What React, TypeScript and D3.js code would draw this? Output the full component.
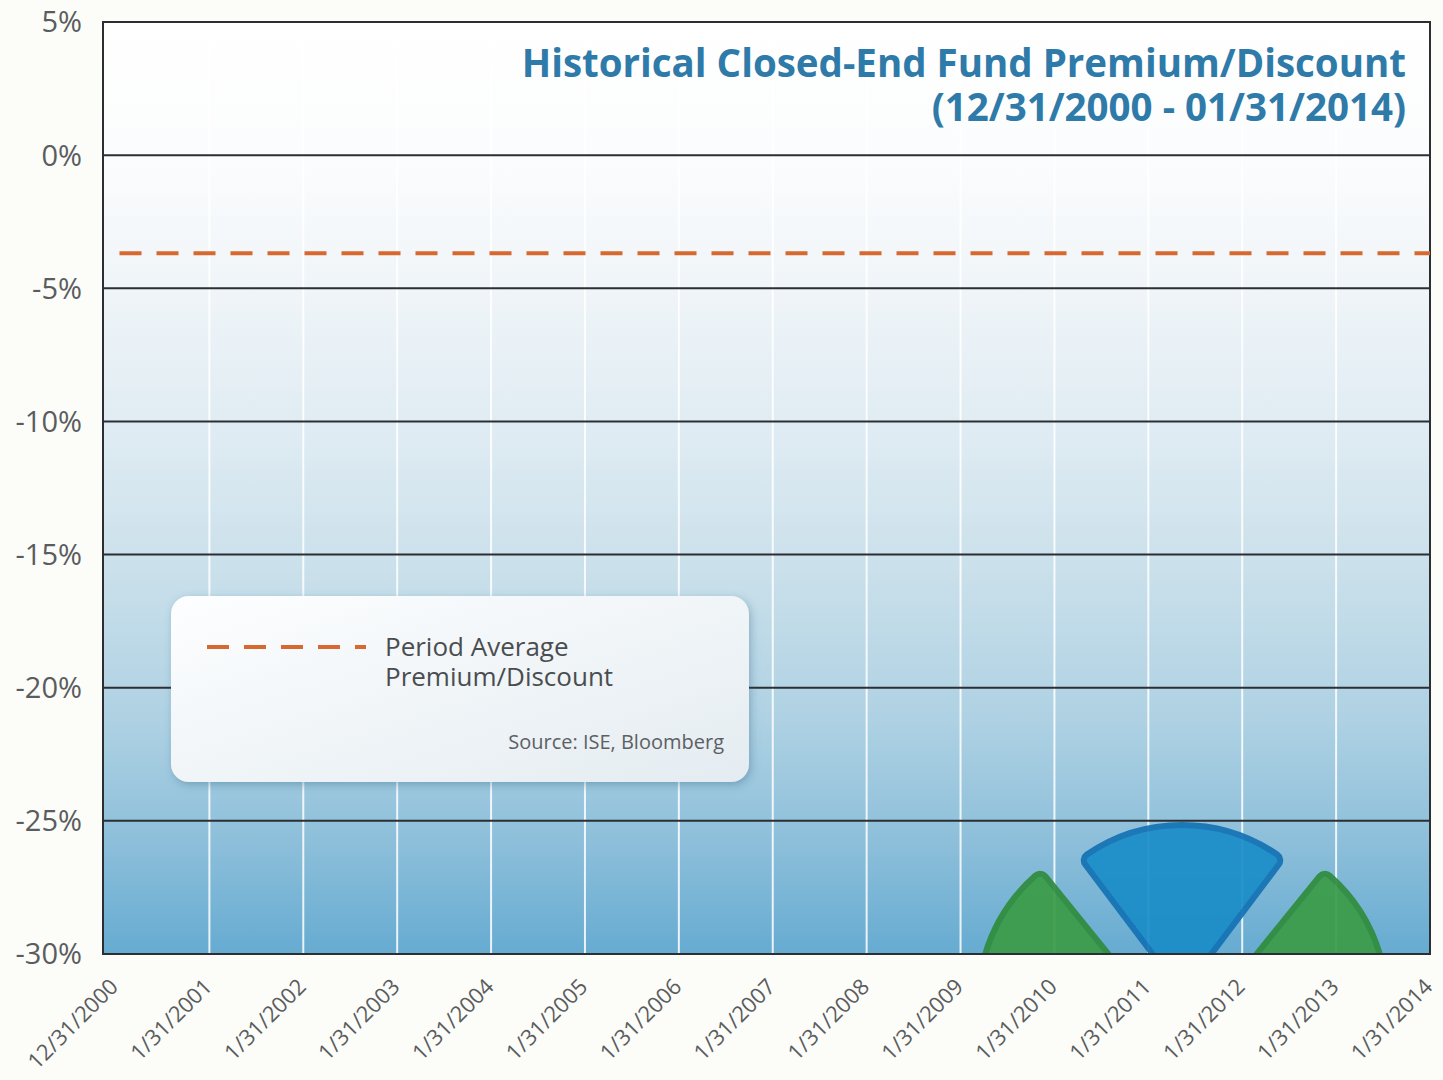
import React, { useEffect, useRef } from "react";
import * as d3 from "d3";

// y axis
const yTicks = [5, 0, -5, -10, -15, -20, -25, -30];
// x axis categories (evenly spaced labels)
const xTickLabels = [
  "12/31/2000", "1/31/2001", "1/31/2002", "1/31/2003", "1/31/2004",
  "1/31/2005", "1/31/2006", "1/31/2007", "1/31/2008", "1/31/2009",
  "1/31/2010", "1/31/2011", "1/31/2012", "1/31/2013", "1/31/2014",
];
const periodAverage = -3.68;

const titleLines = [
  "Historical Closed-End Fund Premium/Discount",
  "(12/31/2000 - 01/31/2014)",
];
const legendLines = ["Period Average", "Premium/Discount"];
const sourceText = "Source: ISE, Bloomberg";

const W = 1443;
const H = 1080;
const margin = { top: 22, right: 13, bottom: 126, left: 103 };
const FONT = "'Open Sans', sans-serif";

const App = () => {
  const svgRef = useRef(null);

  useEffect(() => {
    const svg = d3.select(svgRef.current);
    svg.selectAll("*").remove();

    // first label sits a little inside the left frame
    const x = d3
      .scalePoint()
      .domain(xTickLabels)
      .range([margin.left + 12.5, W - margin.right]);
    const y = d3
      .scaleLinear()
      .domain([-30, 5])
      .range([H - margin.bottom, margin.top]);

    const defs = svg.append("defs");
    const bg = defs
      .append("linearGradient")
      .attr("id", "plotBg")
      .attr("x1", 0).attr("y1", 0).attr("x2", 0).attr("y2", 1);
    [
      [0, "#ffffff"],
      [0.15, "#fbfcfd"],
      [0.3, "#eef4f8"],
      [0.45, "#deebf2"],
      [0.6, "#c8dfea"],
      [0.75, "#aed1e3"],
      [0.88, "#8dbfda"],
      [1, "#66abd1"],
    ].forEach(([o, c]) => bg.append("stop").attr("offset", o).attr("stop-color", c));

    const lg = defs
      .append("linearGradient")
      .attr("id", "legendBg")
      .attr("x1", 0).attr("y1", 0).attr("x2", 1).attr("y2", 1);
    lg.append("stop").attr("offset", 0).attr("stop-color", "#fdfeff");
    lg.append("stop").attr("offset", 1).attr("stop-color", "#e4ecf1");

    const shadow = defs.append("filter").attr("id", "shadow")
      .attr("x", "-10%").attr("y", "-10%").attr("width", "120%").attr("height", "130%");
    shadow.append("feDropShadow")
      .attr("dx", 2).attr("dy", 3).attr("stdDeviation", 4)
      .attr("flood-color", "#2a5a78").attr("flood-opacity", 0.35);

    defs.append("clipPath").attr("id", "plotClip")
      .append("rect")
      .attr("x", margin.left).attr("y", margin.top)
      .attr("width", W - margin.left - margin.right)
      .attr("height", H - margin.top - margin.bottom);

    // page background
    svg.append("rect").attr("width", W).attr("height", H).attr("fill", "#fcfcf9");

    // plot background
    svg.append("rect")
      .attr("x", margin.left).attr("y", margin.top)
      .attr("width", W - margin.left - margin.right)
      .attr("height", H - margin.top - margin.bottom)
      .attr("fill", "url(#plotBg)");

    // vertical white grid
    svg.append("g")
      .selectAll("line")
      .data(xTickLabels.slice(1, -1))
      .join("line")
      .attr("x1", (d) => x(d)).attr("x2", (d) => x(d))
      .attr("y1", margin.top).attr("y2", H - margin.bottom)
      .attr("stroke", "#ffffff")
      .attr("stroke-opacity", 0.85)
      .attr("stroke-width", 2);

    // logo in the corner
    const logo = svg.append("g").attr("clip-path", "url(#plotClip)").attr("opacity", 0.92);
    const deg = Math.PI / 180;
    const sectors = [
      { cx: 1148, cy: 1003, r: 170, a0: -76, a1: -39, fill: "#3b9c47", stroke: "#2f8c3c" },
      { cx: 1217, cy: 1003, r: 170, a0: 39, a1: 76, fill: "#3b9c47", stroke: "#2f8c3c" },
      { cx: 1182, cy: 993, r: 168, a0: -37, a1: 37, fill: "#1a8dc8", stroke: "#1372b4" },
    ];
    const arc = d3.arc().innerRadius(0).cornerRadius(7);
    logo.selectAll("path")
      .data(sectors)
      .join("path")
      .attr("transform", (d) => `translate(${d.cx},${d.cy})`)
      .attr("d", (d) =>
        arc({ outerRadius: d.r, startAngle: d.a0 * deg, endAngle: d.a1 * deg })
      )
      .attr("fill", (d) => d.fill)
      .attr("stroke", (d) => d.stroke)
      .attr("stroke-width", 6)
      .attr("stroke-linejoin", "round");

    // horizontal grid lines
    svg.append("g")
      .selectAll("line")
      .data(yTicks)
      .join("line")
      .attr("x1", margin.left).attr("x2", W - margin.right)
      .attr("y1", (d) => y(d)).attr("y2", (d) => y(d))
      .attr("stroke", "#2b2f33")
      .attr("stroke-width", 2);

    // plot frame
    svg.append("rect")
      .attr("x", margin.left).attr("y", margin.top)
      .attr("width", W - margin.left - margin.right)
      .attr("height", H - margin.top - margin.bottom)
      .attr("fill", "none")
      .attr("stroke", "#2b2f33")
      .attr("stroke-width", 2);

    // y labels
    svg.append("g")
      .selectAll("text")
      .data(yTicks)
      .join("text")
      .attr("x", margin.left - 21)
      .attr("y", (d) => y(d))
      .attr("dy", "0.36em")
      .attr("text-anchor", "end")
      .attr("font-family", FONT)
      .attr("font-size", 29)
      .attr("fill", "#5a5c5e")
      .text((d) => d + "%");

    // x labels
    svg.append("g")
      .selectAll("text")
      .data(xTickLabels)
      .join("text")
      .attr("transform", (d) => `translate(${x(d) + 4},${H - margin.bottom + 34}) rotate(-45)`)
      .attr("text-anchor", "end")
      .attr("font-family", FONT)
      .attr("font-size", 22)
      .attr("fill", "#5a5c5e")
      .text((d) => d);

    // period average
    svg.append("line")
      .attr("x1", x(xTickLabels[0]) + 4).attr("x2", W - margin.right)
      .attr("y1", y(periodAverage)).attr("y2", y(periodAverage))
      .attr("stroke", "#d7682f")
      .attr("stroke-width", 4)
      .attr("stroke-dasharray", "22 15");

    // title
    svg.append("g")
      .selectAll("text")
      .data(titleLines)
      .join("text")
      .attr("x", 1406)
      .attr("y", (d, i) => 77 + i * 44)
      .attr("text-anchor", "end")
      .attr("font-family", FONT)
      .attr("font-weight", 700)
      .attr("font-size", 38.5)
      .attr("fill", "#2e7aa9")
      .text((d) => d);

    // legend box
    const leg = svg.append("g");
    leg.append("rect")
      .attr("x", 171).attr("y", 596)
      .attr("width", 578).attr("height", 186)
      .attr("rx", 18)
      .attr("fill", "url(#legendBg)")
      .attr("filter", "url(#shadow)");
    leg.append("line")
      .attr("x1", 207).attr("x2", 366)
      .attr("y1", 647).attr("y2", 647)
      .attr("stroke", "#d7682f")
      .attr("stroke-width", 4)
      .attr("stroke-dasharray", "22 15");
    leg.selectAll("text.lbl")
      .data(legendLines)
      .join("text")
      .attr("class", "lbl")
      .attr("x", 385)
      .attr("y", (d, i) => 656 + i * 30)
      .attr("font-family", FONT)
      .attr("font-size", 26)
      .attr("fill", "#4a4d50")
      .text((d) => d);
    leg.append("text")
      .attr("x", 724).attr("y", 749)
      .attr("text-anchor", "end")
      .attr("font-family", FONT)
      .attr("font-size", 20)
      .attr("fill", "#5d6063")
      .text(sourceText);
  }, []);

  return (
    <svg
      ref={svgRef}
      width={W}
      height={H}
      style={{ position: "absolute", left: 0, top: 0, display: "block" }}
    />
  );
};

export default App;
